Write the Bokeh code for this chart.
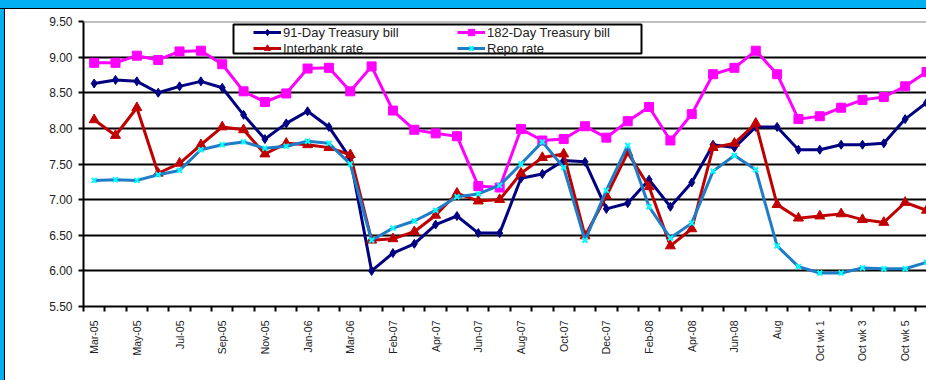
import math
from bokeh.plotting import figure
from bokeh.models import FixedTicker, Legend, LegendItem, Span, BoxAnnotation, Spacer, PrintfTickFormatter
from bokeh.layouts import column, row
from bokeh.embed import file_html
from bokeh.resources import INLINE

categories = ["Mar-05", "Apr-05", "May-05", "Jun-05", "Jul-05", "Aug-05", "Sep-05", "Oct-05",
              "Nov-05", "Dec-05", "Jan-06", "Feb-06", "Mar-06", "Jan-07", "Feb-07", "Mar-07",
              "Apr-07", "May-07", "Jun-07", "Jul-07", "Aug-07", "Sep-07", "Oct-07", "Nov-07",
              "Dec-07", "Jan-08", "Feb-08", "Mar-08", "Apr-08", "May-08", "Jun-08", "Jul-08",
              "Aug", "Sep", "Oct wk 1", "Oct wk 2", "Oct wk 3", "Oct wk 4", "Oct wk 5", "Oct wk 6"]

tbill_91 = [8.63, 8.68, 8.66, 8.50, 8.59, 8.66, 8.57, 8.19, 7.85, 8.07, 8.24, 8.02, 7.58, 6.00,
            6.25, 6.38, 6.65, 6.77, 6.53, 6.53, 7.30, 7.36, 7.55, 7.53, 6.87, 6.95, 7.28, 6.90,
            7.24, 7.77, 7.73, 8.02, 8.02, 7.70, 7.70, 7.77, 7.77, 7.79, 8.13, 8.36]
tbill_182 = [8.92, 8.92, 9.02, 8.96, 9.08, 9.09, 8.90, 8.52, 8.37, 8.49, 8.84, 8.85, 8.52, 8.87,
             8.25, 7.98, 7.93, 7.89, 7.19, 7.17, 7.99, 7.83, 7.85, 8.03, 7.87, 8.10, 8.30, 7.83,
             8.20, 8.76, 8.85, 9.09, 8.76, 8.13, 8.17, 8.29, 8.40, 8.44, 8.59, 8.79]
interbank = [8.12, 7.90, 8.29, 7.37, 7.51, 7.77, 8.02, 7.98, 7.64, 7.79, 7.77, 7.73, 7.63, 6.43,
             6.45, 6.55, 6.78, 7.09, 6.98, 7.00, 7.37, 7.59, 7.64, 6.49, 7.05, 7.66, 7.18, 6.35,
             6.59, 7.73, 7.79, 8.07, 6.93, 6.74, 6.77, 6.80, 6.72, 6.68, 6.96, 6.85]
repo = [7.27, 7.28, 7.27, 7.35, 7.41, 7.70, 7.77, 7.81, 7.72, 7.75, 7.82, 7.79, 7.50, 6.43,
        6.60, 6.70, 6.85, 7.04, 7.08, 7.20, 7.50, 7.81, 7.45, 6.43, 7.13, 7.76, 6.90, 6.46,
        6.67, 7.40, 7.62, 7.42, 6.35, 6.06, 5.97, 5.97, 6.04, 6.03, 6.03, 6.12]

y_ticks = [5.5, 6.0, 6.5, 7.0, 7.5, 8.0, 8.5, 9.0, 9.5]

FONT = "Liberation Sans"
BLUE = "#00B0F0"

x = list(range(len(categories)))

p = figure(width=921, height=371, x_range=(-0.5, 39.0), y_range=(5.5, 9.5),
           output_backend="svg", toolbar_location=None,
           min_border_left=78, min_border_right=0, min_border_top=12, min_border_bottom=74)
p.background_fill_color = "white"
p.border_fill_color = "white"
p.outline_line_color = None

# axes
p.yaxis.ticker = FixedTicker(ticks=y_ticks)
p.yaxis.formatter = PrintfTickFormatter(format="%.2f")
p.yaxis.major_label_text_font = FONT
p.yaxis.major_label_text_font_size = "12px"
p.yaxis.major_label_text_color = "#222222"
p.yaxis.axis_line_width = 2
p.yaxis.axis_line_color = "black"
p.yaxis.major_tick_line_width = 2
p.yaxis.major_tick_out = 5
p.yaxis.major_tick_in = 0
p.yaxis.minor_tick_line_color = None
p.yaxis.major_label_standoff = 6

even = list(range(0, len(categories), 2))
p.xaxis.ticker = FixedTicker(ticks=even, minor_ticks=[i - 0.5 for i in range(len(categories) + 1)])
p.xaxis.major_label_overrides = {i: categories[i] for i in even}
p.xaxis.major_label_orientation = math.pi / 2
p.xaxis.major_label_text_font = FONT
p.xaxis.major_label_text_font_size = "10.5px"
p.xaxis.major_label_text_color = "#222222"
p.xaxis.major_tick_line_color = None
p.xaxis.minor_tick_line_color = "black"
p.xaxis.minor_tick_line_width = 2
p.xaxis.minor_tick_out = 5
p.xaxis.minor_tick_in = 0
p.xaxis.axis_line_width = 2
p.xaxis.axis_line_color = "black"
p.xaxis.major_label_standoff = 8

p.xgrid.visible = False
p.ygrid.ticker = FixedTicker(ticks=y_ticks[1:-1])
p.ygrid.grid_line_color = "black"
p.ygrid.grid_line_width = 2

p.add_layout(Span(location=9.5, dimension="width", line_color="#808080", line_width=2))

# series
l1 = p.line(x, tbill_91, line_color="#000080", line_width=3)
m1 = p.scatter(x, tbill_91, marker="diamond", size=9, fill_color="#000080", line_color="#000080")
l2 = p.line(x, tbill_182, line_color="#FF00FF", line_width=3)
m2 = p.scatter(x, tbill_182, marker="square", size=9, fill_color="#FF00FF", line_color="#FF00FF")
l3 = p.line(x, interbank, line_color="#C00000", line_width=3)
m3 = p.scatter(x, interbank, marker="triangle", size=10, fill_color="#C00000", line_color="#C00000")
l4 = p.line(x, repo, line_color="#1F7DC8", line_width=3)
m4 = p.scatter(x, repo, marker="x", size=7, line_color="#00FFFF", line_width=2)

# legend frame (screen units relative to the plot frame, y upward from its bottom)
box = BoxAnnotation(left=150, right=558, top=282, bottom=253,
                    left_units="screen", right_units="screen", top_units="screen", bottom_units="screen",
                    fill_color="white", fill_alpha=1.0, line_color="black", line_alpha=1.0, line_width=2)
p.add_layout(box)

legend = Legend(items=[
    LegendItem(label="91-Day Treasury bill", renderers=[l1, m1]),
    LegendItem(label="Interbank rate", renderers=[l3, m3]),
    LegendItem(label="182-Day Treasury bill", renderers=[l2, m2]),
    LegendItem(label="Repo rate", renderers=[l4, m4]),
], location=(170, 250), ncols=2)
legend.padding = 0
legend.margin = 0
legend.spacing = 0
legend.border_line_color = None
legend.background_fill_alpha = 0
legend.label_text_font = FONT
legend.label_text_font_size = "13px"
legend.label_text_color = "#222222"
legend.glyph_width = 28
legend.glyph_height = 16
legend.label_height = 16
legend.label_standoff = 2
legend.label_width = 174
p.add_layout(legend)

layout = column(
    Spacer(width=926, height=8, styles={"background-color": BLUE}),
    Spacer(width=926, height=1, styles={"background-color": "black"}),
    row(
        Spacer(width=4, height=371, styles={"background-color": BLUE}),
        Spacer(width=1, height=371, styles={"background-color": "black"}),
        p,
    ),
)

open("out.html", "w").write(file_html(layout, INLINE))
